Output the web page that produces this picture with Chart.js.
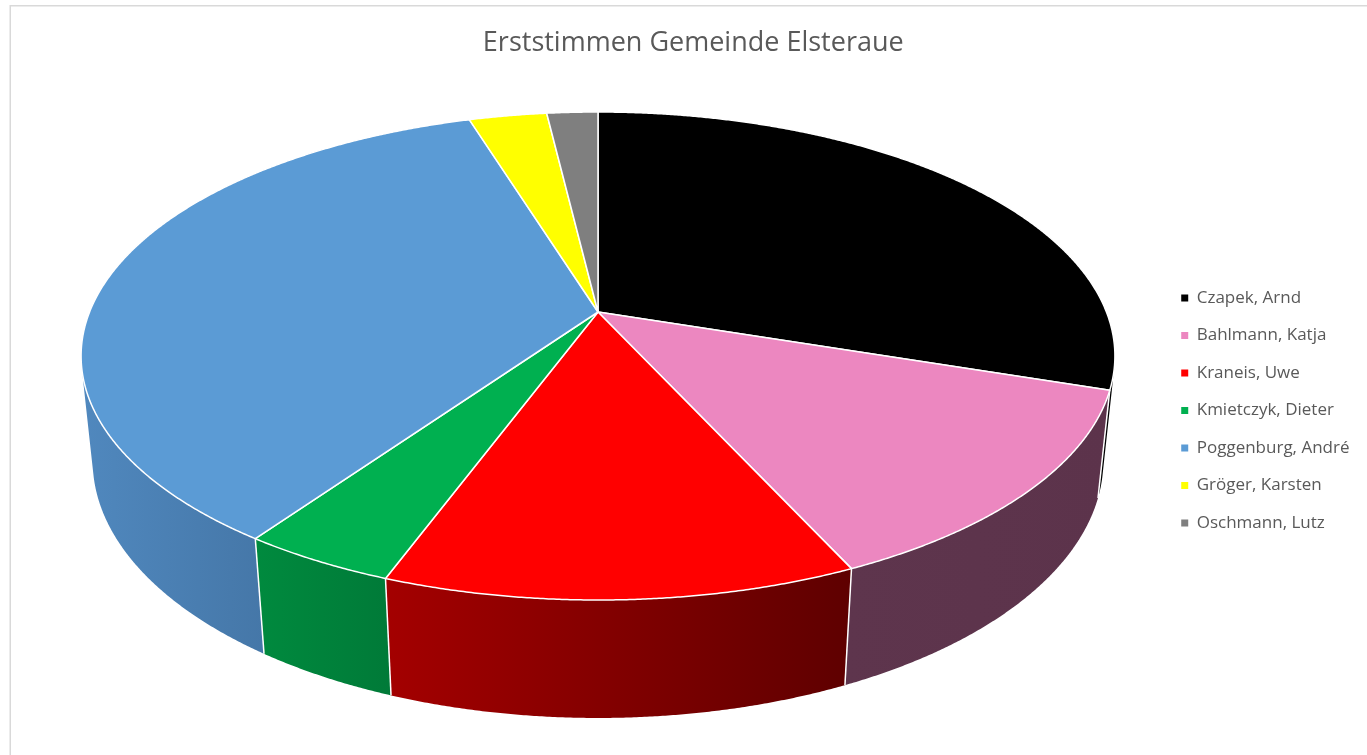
<!DOCTYPE html>
<html>
<head>
<meta charset="utf-8">
<script src="https://cdn.jsdelivr.net/npm/chart.js@4.4.1/dist/chart.umd.min.js"></script>
<style>
html,body{margin:0;padding:0;background:#ffffff;}
#wrap{width:1367px;height:755px;position:relative;}
canvas{display:block;}
</style>
</head>
<body>
<div id="wrap"><canvas id="c"></canvas></div>
<script>
// ---- data ----
const chartTitle = 'Erststimmen Gemeinde Elsteraue';
const candidates = ['Czapek, Arnd', 'Bahlmann, Katja', 'Kraneis, Uwe', 'Kmietczyk, Dieter', 'Poggenburg, André', 'Gröger, Karsten', 'Oschmann, Lutz'];
const shares = [30.1, 13.1, 12.5, 4.1, 35.5, 2.9, 1.9];

// ---- styles ----
const sliceColors = ['#000000', '#EC87C0', '#FF0000', '#00B050', '#5B9BD5', '#FFFF00', '#7F7F7F'];
const wallLight   = ['#000000', '#5E354D', '#A40000', '#008A3E', '#5088BE', '#9A9A00', '#4C4C4C'];
const wallDark    = ['#000000', '#5C334B', '#5E0000', '#007A38', '#4577A8', '#8A8A00', '#444444'];

// perspective view of the 3D pie (unit radius)
const VIEW = {cx: 598, cy: 312, L: 4.911, s: 0.4643, c: 0.8857, F: 2497, H: 0.2347};

function project(theta, bottom) {
  const Y = bottom ? -VIEW.H : 0;
  const X = Math.sin(theta), Z = Math.cos(theta);
  const ry = Y - VIEW.L * VIEW.s, rz = Z + VIEW.L * VIEW.c;
  const depth = -ry * VIEW.s + rz * VIEW.c;
  const ys = ry * VIEW.c + rz * VIEW.s;
  return [VIEW.cx + VIEW.F * X / depth, VIEW.cy - VIEW.F * ys / depth];
}

function arcPoints(a1, a2, bottom) {
  const pts = [];
  const n = Math.max(2, Math.ceil(Math.abs(a2 - a1) / (Math.PI / 720)));
  for (let i = 0; i <= n; i++) pts.push(project(a1 + (a2 - a1) * i / n, bottom));
  return pts;
}

const pie3d = {
  id: 'pie3d',
  beforeDraw(chart) {
    const ctx = chart.ctx;
    ctx.save();
    ctx.strokeStyle = '#D9D9D9';
    ctx.lineWidth = 1.5;
    ctx.strokeRect(10.25, 5.75, 1500, 900);
    ctx.restore();
  },
  beforeDatasetsDraw(chart) {
    const ctx = chart.ctx;
    const meta = chart.getDatasetMeta(0);
    const arcs = meta.data.map((el, i) => ({
      i,
      a1: el.startAngle + Math.PI / 2,
      a2: el.endAngle + Math.PI / 2
    }));
    const vmin = Math.acos(-1 / (VIEW.L * VIEW.c));
    const vmax = 2 * Math.PI - vmin;
    ctx.save();
    ctx.lineJoin = 'round';
    // outer walls
    arcs.forEach(a => {
      const lo = Math.max(a.a1, vmin), hi = Math.min(a.a2, vmax);
      if (hi <= lo) return;
      const top = arcPoints(lo, hi, false);
      const bot = arcPoints(hi, lo, true);
      const pts = top.concat(bot);
      let minX = Infinity, maxX = -Infinity;
      pts.forEach(p => { minX = Math.min(minX, p[0]); maxX = Math.max(maxX, p[0]); });
      const g = ctx.createLinearGradient(minX, 0, maxX, 0);
      g.addColorStop(0, wallLight[a.i]);
      g.addColorStop(1, wallDark[a.i]);
      ctx.beginPath();
      pts.forEach((p, k) => k ? ctx.lineTo(p[0], p[1]) : ctx.moveTo(p[0], p[1]));
      ctx.closePath();
      ctx.fillStyle = g;
      ctx.fill();
    });
    // wall edges
    ctx.strokeStyle = '#FFFFFF';
    ctx.lineWidth = 1.5;
    arcs.forEach(a => {
      const t = a.a1;
      if (t > vmin && t < vmax) {
        const p = project(t, false), q = project(t, true);
        ctx.beginPath(); ctx.moveTo(p[0], p[1]); ctx.lineTo(q[0], q[1]); ctx.stroke();
      }
    });
    // top faces
    arcs.forEach(a => {
      const pts = arcPoints(a.a1, a.a2, false);
      ctx.beginPath();
      ctx.moveTo(VIEW.cx, VIEW.cy);
      pts.forEach(p => ctx.lineTo(p[0], p[1]));
      ctx.closePath();
      ctx.fillStyle = sliceColors[a.i];
      ctx.fill();
      ctx.strokeStyle = '#FFFFFF';
      ctx.lineWidth = 1.5;
      ctx.stroke();
    });
    ctx.restore();
    return false;
  }
};

new Chart(document.getElementById('c'), {
  type: 'pie',
  data: {
    labels: candidates,
    datasets: [{
      data: shares,
      backgroundColor: sliceColors,
      borderWidth: 0
    }]
  },
  options: {
    responsive: true,
    maintainAspectRatio: false,
    devicePixelRatio: 1,
    animation: false,
    events: [],
    layout: {padding: {top: 0, right: 7.5, bottom: 2, left: 27}},
    plugins: {
      title: {
        display: true,
        text: chartTitle,
        color: '#595959',
        font: {family: 'Open Sans', size: 27, weight: 'normal'},
        padding: {top: 27, bottom: 8.6}
      },
      legend: {
        position: 'right',
        align: 'center',
        fullSize: false,
        labels: {
          boxWidth: 7,
          boxHeight: 7,
          padding: 20.5,
          color: '#595959',
          font: {family: 'Open Sans', size: 17}
        }
      },
      tooltip: {enabled: false}
    }
  },
  plugins: [pie3d]
});
</script>
</body>
</html>
